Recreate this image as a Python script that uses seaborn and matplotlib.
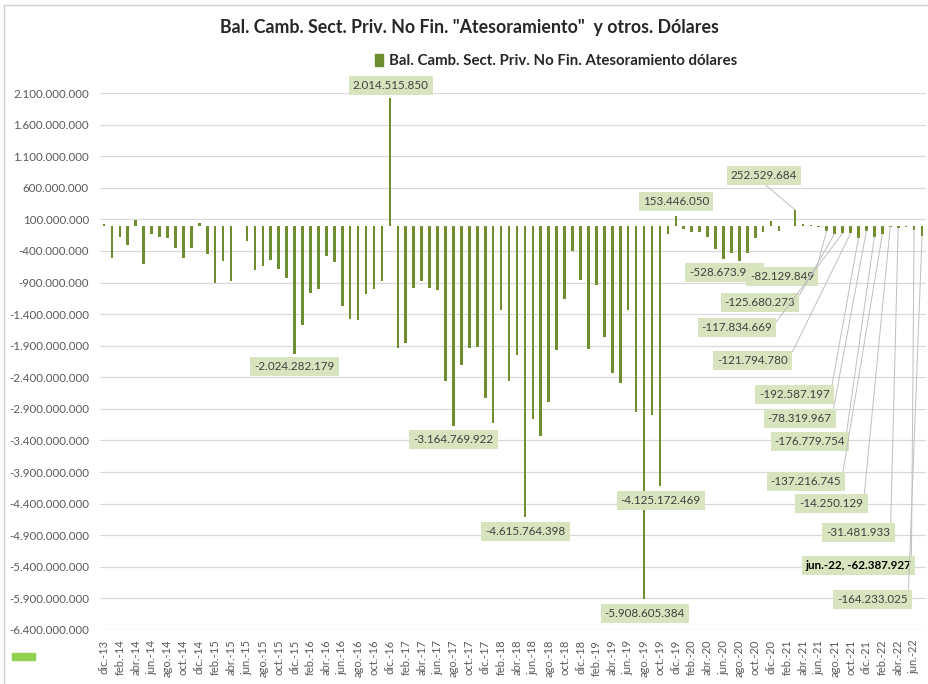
import matplotlib
matplotlib.use("Agg")
import matplotlib.pyplot as plt
import seaborn as sns
import numpy as np
from matplotlib.patches import Patch, Rectangle
from matplotlib.lines import Line2D

sns.set_theme(style="white")
plt.rcParams['font.family'] = ['Lato', 'DejaVu Sans']

# ---- data (USD), monthly dic-13 .. jul-22 ----
month_names = ['ene.', 'feb.', 'mar.', 'abr.', 'may.', 'jun.',
               'jul.', 'ago.', 'sep.', 'oct.', 'nov.', 'dic.']
months = ['dic.-13'] + [f"{m}-{y:02d}" for y in range(14, 22) for m in month_names] \
         + [f"{m}-22" for m in month_names[:7]]

values = [
    20000000,                                                     # dic-13
    -505000000, -174000000, -305000000, 90000000, -600000000, -132000000,
    -184000000, -195000000, -353000000, -505000000, -353000000, 35000000,     # 2014
    -442000000, -900000000, -558000000, -874000000, -5000000, -242000000,
    -700000000, -637000000, -547000000, -679000000, -821000000, -2024282179,  # 2015
    -1568000000, -1068000000, -995000000, -474000000, -574000000, -1274000000,
    -1484000000, -1495000000, -1079000000, -1000000000, -868000000, 2014515850,  # 2016
    -1932000000, -1858000000, -979000000, -868000000, -979000000, -1016000000,
    -2463000000, -3164769922, -2200000000, -1942000000, -1916000000, -2721000000,  # 2017
    -3121000000, -1337000000, -2453000000, -2047000000, -4615764398, -3068000000,
    -3337000000, -2789000000, -1968000000, -1163000000, -400000000, -858000000,  # 2018
    -1953000000, -942000000, -1768000000, -2337000000, -2489000000, -1337000000,
    -2942000000, -5908605384, -3000000000, -4125172469, -137000000, 153446050,  # 2019
    -53000000, -105000000, -95000000, -179000000, -363000000, -528673912,
    -437000000, -558000000, -426000000, -189000000, -100000000, 80000000,     # 2020
    -90000000, -5000000, 252529684, 25000000, 12000000, -15000000,
    -82129849, -125680273, -117834669, -121794780, -192587197, -78319967,     # 2021
    -176779754, -137216745, -14250129, -31481933, -20000000, -62387927,
    -164233025,                                                   # 2022
]

title = 'Bal. Camb. Sect. Priv. No Fin. "Atesoramiento"  y otros. Dólares'
series_name = 'Bal. Camb. Sect. Priv. No Fin. Atesoramiento dólares'

# labels placed next to their bar: bar index -> text centre (index, value)
plain_labels = {24: (24.0, -2226e6), 36: (36.1, 2220e6), 44: (44.0, -3383e6),
                53: (53.1, -4837e6), 68: (68.1, -6134e6), 70: (70.1, -4347e6),
                72: (72.0, 385e6), 78: (78.1, -739e6)}
# labels moved away with a leader line
leader_labels = {87: (83.1, 796e6), 91: (85.4, -802e6), 92: (82.6, -1213e6),
                 93: (79.7, -1608e6), 94: (81.7, -2131e6), 95: (87.0, -2669e6),
                 96: (87.6, -3049e6), 97: (88.9, -3413e6), 98: (88.4, -4046e6),
                 99: (91.6, -4394e6), 100: (95.0, -4853e6), 102: (95.0, -5375e6),
                 103: (96.8, -5913e6)}


def fmt(v):
    return f"{v:,.0f}".replace(",", ".")


bar_color = '#6f8e30'
box_color = '#d7e4bd'
text_color = '#404040'

fig = plt.figure(figsize=(9.29, 6.84), dpi=100)
ax = fig.add_axes([100 / 929, 1 - 630 / 684, 826 / 929, 537 / 684])

sns.barplot(x=months, y=values, color=bar_color, saturation=1, width=0.33,
            errorbar=None, ax=ax, zorder=2, linewidth=0, edgecolor='none')

ax.set_xlim(-0.5, len(months) - 0.5)
ax.set_ylim(-6.4e9, 2.1e9)
yt = np.arange(-6.4e9, 2.1e9 + 1, 5e8)
ax.set_yticks(yt)
ax.set_yticklabels([fmt(v) for v in yt], fontsize=8.3, color='#595959')
ax.set_xticks(range(0, len(months), 2))
ax.set_xticklabels(months[::2], rotation=90, fontsize=8, color='#595959')
ax.tick_params(axis='both', length=0)
ax.tick_params(axis='y', pad=8)
ax.tick_params(axis='x', pad=7)
ax.grid(axis='y', color='#d9d9d9', lw=0.9)
ax.set_axisbelow(True)
for s in ax.spines.values():
    s.set_visible(False)
ax.set_xlabel('')
ax.set_ylabel('')

bbox = dict(boxstyle='square,pad=0.35', fc=box_color, ec='none')
for i, (tx, ty) in plain_labels.items():
    ax.text(tx, ty, fmt(values[i]), ha='center', va='center', fontsize=8.4,
            color=text_color, bbox=bbox, zorder=5, clip_on=False)

for i, (tx, ty) in leader_labels.items():
    if i == 102:
        txt = f"{months[i]}, {fmt(values[i])}"
        kw = dict(fontweight='bold', color='black')
    else:
        txt = fmt(values[i])
        kw = dict(color=text_color)
    rel = (0.45, 0.0) if values[i] > 0 else (1.0, 0.5)
    ax.annotate(txt, xy=(i, values[i]), xytext=(tx, ty), textcoords='data',
                ha='center', va='center', fontsize=8.4, bbox=bbox, zorder=5,
                arrowprops=dict(arrowstyle='-', color='#bfbfbf', lw=0.7,
                                relpos=rel, shrinkA=0, shrinkB=0), **kw)

fig.text(469 / 929, 1 - 28 / 684, title, ha='center', va='center',
         fontsize=12.8, fontweight='bold', color='#262626')
ax.legend(handles=[Patch(color=bar_color, label=series_name)],
          loc='center', bbox_to_anchor=(556 / 929, 1 - 61 / 684),
          bbox_transform=fig.transFigure, frameon=False, handlelength=0.5,
          handleheight=0.9, handletextpad=0.4,
          prop=dict(size=10.8, weight='bold'), labelcolor='#262626')

# chart frame and the small green mark bottom-left
fig.add_artist(Line2D([4 / 929, 4 / 929], [0, 1 - 5 / 684], transform=fig.transFigure,
                      color='#d0d0d0', lw=1))
fig.add_artist(Line2D([4 / 929, 1], [1 - 5 / 684, 1 - 5 / 684], transform=fig.transFigure,
                      color='#d0d0d0', lw=1))
fig.add_artist(Rectangle((12 / 929, 1 - 660 / 684), 23 / 929, 7 / 684,
                         transform=fig.transFigure, color='#92d050'))

fig.savefig('out.png', dpi=100)
